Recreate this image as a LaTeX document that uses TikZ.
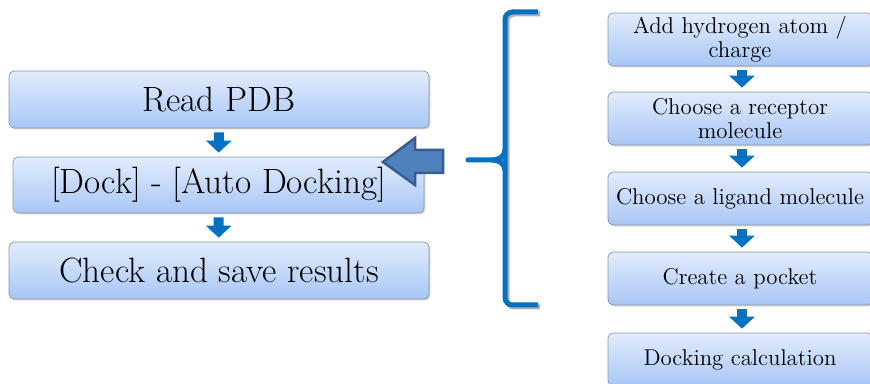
\documentclass[tikz,border=0pt]{standalone}
\usetikzlibrary{arrows.meta,shadows}

\definecolor{flowblue}{HTML}{0070C0}
\definecolor{arrowfill}{HTML}{4F81BD}
\definecolor{arrowedge}{HTML}{385D8A}
\definecolor{boxtop}{HTML}{E2ECFC}
\definecolor{boxbottom}{HTML}{A8C7F6}
\definecolor{boxedge}{HTML}{8A95A5}

\tikzset{
  stepbox/.style={draw=boxedge, rounded corners=0.1cm, top color=boxtop, bottom color=boxbottom,
    drop shadow={shadow xshift=0.03cm, shadow yshift=-0.03cm, opacity=0.35}, align=center, inner sep=0pt},
  leftbox/.style={stepbox, minimum width=8.4cm, minimum height=1.14cm, font=\fontsize{20}{22}\selectfont},
  rightbox/.style={stepbox, minimum width=5.28cm, minimum height=1.06cm, font=\fontsize{13}{13.5}\selectfont},
  downarrow/.style={flowblue, line width=0.2cm, -{Triangle[width=0.5cm,length=0.24cm]},
    shorten <=0.08cm, shorten >=0.08cm},
}

\begin{document}
\begin{tikzpicture}[x=0.02cm, y=-0.02cm]
  \useasboundingbox (0,0) rectangle (870,384);
  \clip (0,0) rectangle (870,384);
  % left column
  \node[leftbox] (readpdb) at (219,99.5) {Read PDB};
  \node[leftbox, minimum width=8.22cm, minimum height=1.12cm] (dock) at (218.5,185) {[Dock] - [Auto Docking]};
  \node[leftbox] (check) at (219,270.5) {Check and save results};
  % right column
  \node[rightbox] (addh) at (740,39.5) {Add hydrogen atom /\\charge};
  \node[rightbox] (receptor) at (740,118.5) {Choose a receptor\\molecule};
  \node[rightbox] (ligand) at (740,198.5) {Choose a ligand molecule};
  \node[rightbox] (pocket) at (740,278.5) {Create a pocket};
  \node[rightbox] (calc) at (740,359.5) {Docking calculation};
  % Draw the step arrows
  \draw[downarrow] (readpdb) -- (dock);
  \draw[downarrow] (dock) -- (check);
  \draw[downarrow] (addh.south -| 742,0) -- (receptor.north -| 742,0);
  \draw[downarrow] (receptor.south -| 742,0) -- (ligand.north -| 742,0);
  \draw[downarrow] (ligand.south -| 742,0) -- (pocket.north -| 742,0);
  \draw[downarrow] (pocket.south -| 742,0) -- (calc.north -| 742,0);
  % brace
  \coordinate (bracetip) at (468,160);
  \draw[black!30, line width=0.1cm, rounded corners=0.15cm] (540,14) -- (507,14) -- (507,307) -- (540,307);
  \draw[flowblue, line width=0.1cm, rounded corners=0.15cm] (538,12) -- (505,12) -- (505,305) -- (538,305);
  \draw[flowblue, line width=0.1cm, line cap=round] (bracetip) -- (492,160) to[out=0,in=-90] (505,150);
  \draw[flowblue, line width=0.1cm] (492,160) to[out=0,in=90] (505,170);
  % big arrow
  \draw[arrowedge, fill=arrowfill, line width=0.05cm, line join=miter]
    (383,162) -- (415,138) -- (415,150) -- (443,150) -- (443,173) -- (415,173) -- (415,185) -- cycle;
\end{tikzpicture}
\end{document}
